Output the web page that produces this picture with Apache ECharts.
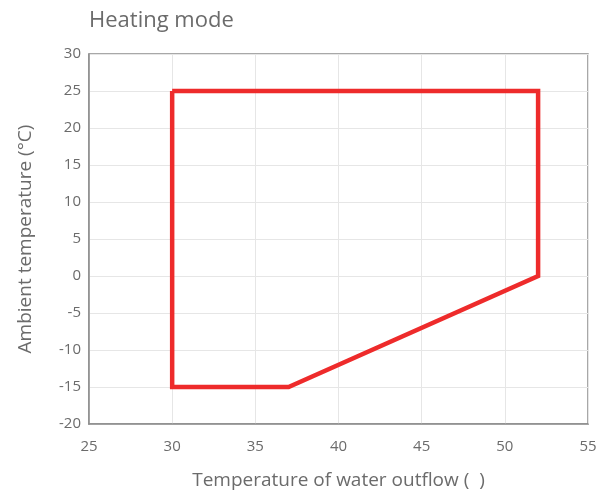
<!DOCTYPE html>
<html>
<head>
<meta charset="utf-8">
<script src="https://cdn.jsdelivr.net/npm/echarts@6/dist/echarts.min.js"></script>
<style>
  html, body { margin: 0; padding: 0; background: #fff; }
  #chart { width: 608px; height: 495px; }
</style>
</head>
<body>
<div id="chart"></div>
<script>
// Operating envelope (water outflow temp, ambient temp)
var outflowTemps = [30, 52, 52, 37, 30, 30];
var ambientTemps = [25, 25, 0, -15, -15, 25];
var xTicks = [25, 55, 5];
var yTicks = [-20, 30, 5];

var chart = echarts.init(document.getElementById('chart'));
var envelope = outflowTemps.map(function (x, i) { return [x, ambientTemps[i]]; });

var textColor = '#6b6b6b';
var fontFamily = '"Open Sans", "Noto Sans", sans-serif';

chart.setOption({
  animation: false,
  title: {
    text: 'Heating mode',
    left: 84,
    top: 5,
    textStyle: { color: textColor, fontSize: 22, fontWeight: 'normal', fontFamily: fontFamily }
  },
  grid: {
    left: 89,
    right: 20,
    top: 54,
    bottom: 71,
    show: true,
    borderColor: '#8c8c8c',
    borderWidth: 1.5
  },
  xAxis: {
    type: 'value',
    min: xTicks[0],
    max: xTicks[1],
    interval: xTicks[2],
    name: 'Temperature of water outflow (  )',
    nameLocation: 'middle',
    nameGap: 47,
    nameTextStyle: { color: textColor, fontSize: 19, fontFamily: fontFamily },
    axisLine: { show: true, onZero: false, lineStyle: { color: '#8c8c8c', width: 1.5 } },
    axisTick: { show: false },
    axisLabel: { color: textColor, fontSize: 15, margin: 15, fontFamily: fontFamily },
    splitLine: { show: true, lineStyle: { color: '#e6e6e6', width: 1 } }
  },
  yAxis: {
    type: 'value',
    min: yTicks[0],
    max: yTicks[1],
    interval: yTicks[2],
    name: 'Ambient temperature (\u00b0C)',
    nameLocation: 'middle',
    nameGap: 54,
    nameRotate: 90,
    nameTextStyle: { color: textColor, fontSize: 19, fontFamily: fontFamily },
    axisLine: { show: true, onZero: false, lineStyle: { color: '#8c8c8c', width: 1.5 } },
    axisTick: { show: false },
    axisLabel: { color: textColor, fontSize: 15, margin: 8, fontFamily: fontFamily },
    splitLine: { show: true, lineStyle: { color: '#e6e6e6', width: 1 } }
  },
  series: [{
    type: 'line',
    data: envelope,
    showSymbol: false,
    symbol: 'none',
    lineStyle: { color: '#ee2b2b', width: 4.5, join: 'miter' }
  }]
});
</script>
</body>
</html>
